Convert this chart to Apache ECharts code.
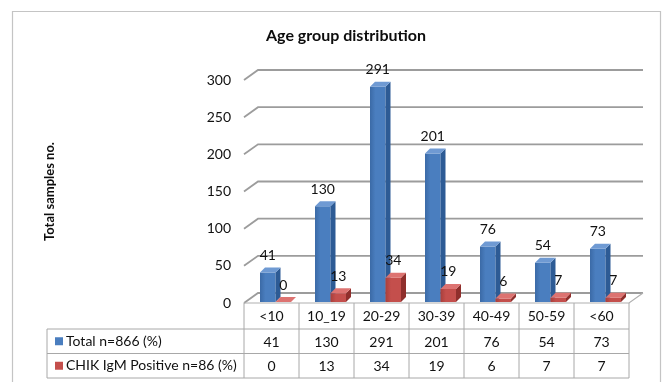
<!DOCTYPE html>
<html>
<head>
<meta charset="utf-8">
<script src="https://cdn.jsdelivr.net/npm/echarts@6/dist/echarts.min.js"></script>
<style>
  html, body { margin: 0; padding: 0; background: #fff; }
  #chart { width: 668px; height: 382px; }
</style>
</head>
<body>
<div id="chart"></div>
<script>
// Age groups and counts
const categories = ['<10', '10_19', '20-29', '30-39', '40-49', '50-59', '<60'];
const totalValues = [41, 130, 291, 201, 76, 54, 73];
const positiveValues = [0, 13, 34, 19, 6, 7, 7];
const seriesNames = ['Total n=866 (%)', 'CHIK IgM Positive n=86 (%)'];
const yTicks = [0, 50, 100, 150, 200, 250, 300];

const FONT = 'Lato, "Open Sans", sans-serif';
const GRID = { left: 244, right: 39, top: 80, bottom: 79 };
const DEPTH = { dx: 14, dy: -10 };       // wall depth (oblique projection)
const BAR = { w: 15.5, dx: 5, dy: -5 };  // bar thickness / bar depth
const ROW_H = 24.5;                      // data table row height
const TXT = '#111111';

const palette = [
  { front: '#4a7ebf', side: '#2d5b95', top: '#6f9ad3', dark: '#3b6aa6' },
  { front: '#c44f4c', side: '#8f2f2c', top: '#dd7371', dark: '#a83f3c' }
];

const chart = echarts.init(document.getElementById('chart'));

// back wall gridlines with the left side wall slant, plus the floor outline
function renderWall(params, api) {
  const v = api.value(1);
  const band = api.size([1, 0])[0];
  const p = api.coord([0, v]);
  const x0 = p[0] - band / 2;
  const x1 = x0 + band * categories.length;
  const y = p[1];
  const line = { stroke: '#9c9c9c', lineWidth: 1.8, fill: null };
  const children = [{
    type: 'polyline',
    shape: { points: [[x0, y], [x0 + DEPTH.dx, y + DEPTH.dy], [x1 + DEPTH.dx, y + DEPTH.dy]] },
    style: line
  }];
  if (v === 0) {
    children.push({
      type: 'polyline',
      shape: { points: [[x0, y], [x1, y], [x1 + DEPTH.dx, y + DEPTH.dy]] },
      style: { stroke: '#b0b0b0', lineWidth: 1.2, fill: null }
    });
  }
  return { type: 'group', children };
}

// 3D-looking column: front face, right side face, top face, value label
function makeBarRenderer(seriesIdx) {
  const c = palette[seriesIdx];
  return function (params, api) {
    const i = api.value(0);
    const v = api.value(1);
    const base = api.coord([i, 0]);
    const top = api.coord([i, v]);
    const x0 = base[0] - 11.5 + seriesIdx * BAR.w;
    const x1 = x0 + BAR.w;
    const yb = base[1] - 1;
    const yt = Math.min(top[1], yb);
    const children = [];
    if (yb - yt > 0.5) {
      children.push({
        type: 'rect',
        shape: { x: x0, y: yt, width: BAR.w, height: yb - yt },
        style: {
          fill: new echarts.graphic.LinearGradient(0, 0, 1, 0, [
            { offset: 0, color: c.dark },
            { offset: 0.35, color: c.front },
            { offset: 1, color: c.front }
          ])
        }
      });
      children.push({
        type: 'polygon',
        shape: { points: [[x1, yt], [x1 + BAR.dx, yt + BAR.dy], [x1 + BAR.dx, yb + BAR.dy], [x1, yb]] },
        style: { fill: c.side }
      });
    }
    children.push({
      type: 'polygon',
      shape: { points: [[x0, yt], [x1, yt], [x1 + BAR.dx, yt + BAR.dy], [x0 + BAR.dx, yt + BAR.dy]] },
      style: { fill: c.top }
    });
    children.push({
      type: 'text',
      style: {
        text: String(v),
        x: (x0 + x1) / 2,
        y: yt - 17,
        align: 'center',
        verticalAlign: 'middle',
        font: '14px ' + FONT,
        fill: TXT
      }
    });
    return { type: 'group', children };
  };
}

function valueAxis(values, offset) {
  return {
    type: 'category',
    data: categories,
    gridIndex: 0,
    position: 'bottom',
    offset: offset,
    axisLine: { show: false },
    axisTick: { show: false },
    axisLabel: {
      show: true,
      interval: 0,
      margin: 6,
      fontSize: 14,
      fontFamily: FONT,
      color: TXT,
      formatter: (val, index) => String(values[index])
    }
  };
}

chart.setOption({
  animation: false,
  backgroundColor: '#ffffff',
  title: {
    text: 'Age group distribution',
    left: 341,
    top: 23,
    textAlign: 'center',
    textStyle: { fontSize: 16, fontWeight: 'bold', fontFamily: FONT, color: '#0d0d0d' }
  },
  grid: GRID,
  xAxis: [
    {
      type: 'category',
      data: categories,
      position: 'bottom',
      axisLine: { show: false },
      axisTick: { show: false },
      axisLabel: { interval: 0, margin: 6, fontSize: 14, fontFamily: FONT, color: TXT }
    },
    valueAxis(totalValues, ROW_H + 1.5),
    valueAxis(positiveValues, ROW_H * 2 + 1.5)
  ],
  yAxis: {
    type: 'value',
    min: 0,
    max: 300,
    interval: 50,
    name: 'Total samples no.',
    nameLocation: 'middle',
    nameRotate: 90,
    nameGap: 188,
    nameTextStyle: { fontSize: 13, fontWeight: 'bold', fontFamily: FONT, color: '#0d0d0d' },
    axisLine: { show: false },
    axisTick: { show: false },
    splitLine: { show: false },
    axisLabel: { margin: 13, fontSize: 14, fontFamily: FONT, color: TXT }
  },
  series: [
    {
      type: 'custom',
      name: 'wall',
      silent: true,
      z: 1,
      renderItem: renderWall,
      data: yTicks.map(v => [0, v]),
      encode: { x: 0, y: 1 }
    },
    {
      type: 'custom',
      name: seriesNames[0],
      z: 3,
      renderItem: makeBarRenderer(0),
      data: totalValues.map((v, i) => [i, v]),
      encode: { x: 0, y: 1 }
    },
    {
      type: 'custom',
      name: seriesNames[1],
      z: 3,
      renderItem: makeBarRenderer(1),
      data: positiveValues.map((v, i) => [i, v]),
      encode: { x: 0, y: 1 }
    }
  ]
});

// data table grid lines, row headers and the outer frame
(function drawTable() {
  const n = categories.length;
  const c0 = chart.convertToPixel({ xAxisIndex: 0 }, categories[0]);
  const c1 = chart.convertToPixel({ xAxisIndex: 0 }, categories[1]);
  const band = c1 - c0;
  const left = c0 - band / 2;
  const right = left + band * n;
  const yTop = chart.convertToPixel({ yAxisIndex: 0 }, 0);
  const headLeft = 47;
  const rows = [yTop + ROW_H + 1.5, yTop + ROW_H * 2 + 1.5, yTop + ROW_H * 3 + 1.5];
  const stroke = { stroke: '#a8a8a8', lineWidth: 1 };
  const els = [];
  // outer chart frame
  els.push({
    type: 'rect',
    shape: { x: 12.5, y: 11.5, width: 648, height: 380 },
    style: { fill: null, stroke: '#c4c4c4', lineWidth: 1.2 },
    silent: true, z: 0
  });
  rows.forEach(y => {
    els.push({ type: 'line', shape: { x1: headLeft, y1: y, x2: right, y2: y }, style: stroke, silent: true });
  });
  for (let i = 0; i <= n; i++) {
    const x = left + band * i;
    els.push({ type: 'line', shape: { x1: x, y1: yTop, x2: x, y2: rows[2] }, style: stroke, silent: true });
  }
  els.push({ type: 'line', shape: { x1: headLeft, y1: rows[0], x2: headLeft, y2: rows[2] }, style: stroke, silent: true });
  seriesNames.forEach((name, k) => {
    const yc = (rows[k] + rows[k + 1]) / 2;
    els.push({ type: 'rect', shape: { x: 55, y: yc - 4, width: 8, height: 8 }, style: { fill: palette[k].front }, silent: true });
    els.push({
      type: 'text',
      style: { text: name, x: 66, y: yc, verticalAlign: 'middle', font: '14px ' + FONT, fill: TXT },
      silent: true
    });
  });
  chart.setOption({ graphic: els });
})();
</script>
</body>
</html>
